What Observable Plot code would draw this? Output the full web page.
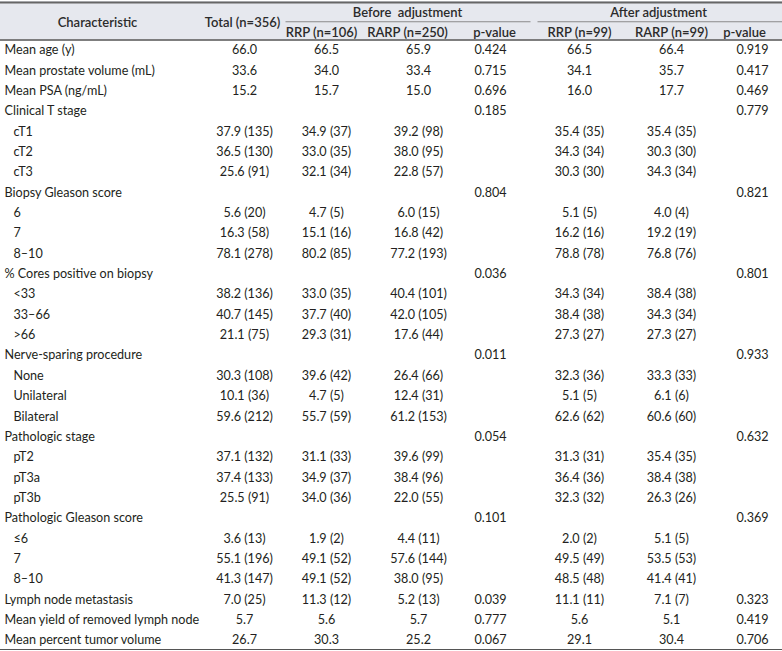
<!DOCTYPE html>
<html>
<head>
<meta charset="utf-8">
<script src="https://cdn.jsdelivr.net/npm/d3@7"></script>
<script src="https://cdn.jsdelivr.net/npm/@observablehq/plot@0.6"></script>
<style>
  html, body { margin: 0; padding: 0; background: #fff; }
  #chart svg { display: block; }
</style>
</head>
<body>
<div id="chart"></div>
<script>
// ---------- data ----------
const columnHeaders = ["Characteristic", "Total (n=356)", "RRP (n=106)", "RARP (n=250)", "p-value", "RRP (n=99)", "RARP (n=99)", "p-value"];
const groupHeaders = ["Before\u00a0 adjustment", "After adjustment"];

const characteristics = [
  "Mean age (y)", "Mean prostate volume (mL)", "Mean PSA (ng/mL)",
  "Clinical T stage", "cT1", "cT2", "cT3",
  "Biopsy Gleason score", "6", "7", "8\u201310",
  "% Cores positive on biopsy", "<33", "33\u201366", ">66",
  "Nerve-sparing procedure", "None", "Unilateral", "Bilateral",
  "Pathologic stage", "pT2", "pT3a", "pT3b",
  "Pathologic Gleason score", "\u22646", "7", "8\u201310",
  "Lymph node metastasis", "Mean yield of removed lymph node", "Mean percent tumor volume"
];
const levels = [0,0,0, 0,1,1,1, 0,1,1,1, 0,1,1,1, 0,1,1,1, 0,1,1,1, 0,1,1,1, 0,0,0];

const total = ["66.0","33.6","15.2", "","37.9 (135)","36.5 (130)","25.6 (91)",
  "","5.6 (20)","16.3 (58)","78.1 (278)", "","38.2 (136)","40.7 (145)","21.1 (75)",
  "","30.3 (108)","10.1 (36)","59.6 (212)", "","37.1 (132)","37.4 (133)","25.5 (91)",
  "","3.6 (13)","55.1 (196)","41.3 (147)", "7.0 (25)","5.7","26.7"];
const rrpBefore = ["66.5","34.0","15.7", "","34.9 (37)","33.0 (35)","32.1 (34)",
  "","4.7 (5)","15.1 (16)","80.2 (85)", "","33.0 (35)","37.7 (40)","29.3 (31)",
  "","39.6 (42)","4.7 (5)","55.7 (59)", "","31.1 (33)","34.9 (37)","34.0 (36)",
  "","1.9 (2)","49.1 (52)","49.1 (52)", "11.3 (12)","5.6","30.3"];
const rarpBefore = ["65.9","33.4","15.0", "","39.2 (98)","38.0 (95)","22.8 (57)",
  "","6.0 (15)","16.8 (42)","77.2 (193)", "","40.4 (101)","42.0 (105)","17.6 (44)",
  "","26.4 (66)","12.4 (31)","61.2 (153)", "","39.6 (99)","38.4 (96)","22.0 (55)",
  "","4.4 (11)","57.6 (144)","38.0 (95)", "5.2 (13)","5.7","25.2"];
const pBefore = ["0.424","0.715","0.696", "0.185","","","",
  "0.804","","","", "0.036","","","",
  "0.011","","","", "0.054","","","",
  "0.101","","","", "0.039","0.777","0.067"];
const rrpAfter = ["66.5","34.1","16.0", "","35.4 (35)","34.3 (34)","30.3 (30)",
  "","5.1 (5)","16.2 (16)","78.8 (78)", "","34.3 (34)","38.4 (38)","27.3 (27)",
  "","32.3 (36)","5.1 (5)","62.6 (62)", "","31.3 (31)","36.4 (36)","32.3 (32)",
  "","2.0 (2)","49.5 (49)","48.5 (48)", "11.1 (11)","5.6","29.1"];
const rarpAfter = ["66.4","35.7","17.7", "","35.4 (35)","30.3 (30)","34.3 (34)",
  "","4.0 (4)","19.2 (19)","76.8 (76)", "","38.4 (38)","34.3 (34)","27.3 (27)",
  "","33.3 (33)","6.1 (6)","60.6 (60)", "","35.4 (35)","38.4 (38)","26.3 (26)",
  "","5.1 (5)","53.5 (53)","41.4 (41)", "7.1 (7)","5.1","30.4"];
const pAfter = ["0.919","0.417","0.469", "0.779","","","",
  "0.821","","","", "0.801","","","",
  "0.933","","","", "0.632","","","",
  "0.369","","","", "0.323","0.419","0.706"];

const valueColumns = [total, rrpBefore, rarpBefore, pBefore, rrpAfter, rarpAfter, pAfter];

// ---------- layout (scale configuration, not data) ----------
const colCenters = [97, 242, 321, 407, 494, 579, 671, 744];   // header centres
const valueShift = [2, 5, 11, -4, 0, 0, 8];                    // value offset per value column
const xDomain = [-0.5, ...d3.range(8), 7.5];
const xRange  = [0, ...colCenters, 782];

const nRows = characteristics.length;

const bodyCells = valueColumns.map((vals, j) =>
  vals.map((text, i) => ({col: j + 1, row: i, text})).filter(d => d.text !== "")
);
const labelCells = characteristics.map((text, i) => ({row: i, text, level: levels[i]}));

const headerCells = columnHeaders.map((text, j) => ({
  text, col: j, row: (j <= 1) ? -1 : -0.5
}));
const groupCells = [
  {text: groupHeaders[0], col: 3, from: 1.5, to: 4.5},
  {text: groupHeaders[1], col: 6, from: 4.5, to: 7.5}
];

const ink = "#231f20";
const headInk = "#2b2b2b";
const fs = 12.6;
const hfs = 13;

const marks = [
  // header background
  Plot.rectY([0], {x1: -0.5, x2: 7.5, y1: -2, y2: 0, fill: "#e6e8ee"}),
  // top border
  Plot.ruleY([-2], {x1: -0.5, x2: 7.5, stroke: "#666", strokeWidth: 2.2, dy: 1}),
  // header bottom
  Plot.ruleY([0], {x1: -0.5, x2: 7.5, stroke: "#555", strokeWidth: 1.4}),
  // bottom border
  Plot.ruleY([nRows], {x1: -0.5, x2: 7.5, stroke: "#555", strokeWidth: 1.2, dy: -1}),
  // spanning rules under group headers
  Plot.ruleY(groupCells.slice(0,1), {y: -1, x1: "from", x2: "to", stroke: "#8a8a8a", strokeWidth: 1, insetLeft: 4, insetRight: 6, dy: 1}),
  Plot.ruleY(groupCells.slice(1), {y: -1, x1: "from", x2: "to", stroke: "#8a8a8a", strokeWidth: 1, insetLeft: 1, dy: 1}),
  // group header text
  Plot.text(groupCells.slice(0,1), {x: "col", y: -1.5, text: "text", fontWeight: 600, fontSize: hfs, fill: headInk, dy: 2}),
  Plot.text(groupCells.slice(1), {x: "col", y: -1.5, text: "text", fontWeight: 600, fontSize: hfs, fill: headInk, dy: 2, dx: -13}),
  // column header text
  Plot.text(headerCells, {x: "col", y: "row", text: "text", fontWeight: 600, fontSize: hfs, fill: headInk, dy: 2}),
  // row labels
  Plot.text(labelCells.filter(d => d.level === 0), {x: -0.5, y: d => d.row + 0.5, text: "text", textAnchor: "start", dx: 4, fontSize: fs, fill: ink}),
  Plot.text(labelCells.filter(d => d.level === 1), {x: -0.5, y: d => d.row + 0.5, text: "text", textAnchor: "start", dx: 13, fontSize: fs, fill: ink}),
  // values, one mark per column
  ...bodyCells.map((cells, j) =>
    Plot.text(cells, {x: "col", y: d => d.row + 0.5, text: "text", fontSize: fs, fill: ink, dx: valueShift[j]})
  )
];

const chart = Plot.plot({
  width: 782,
  height: 651,
  margin: 0,
  x: {type: "linear", domain: xDomain, range: xRange, axis: null},
  y: {type: "linear", domain: [-2, 0, nRows], range: [1, 39.5, 650], axis: null},
  style: {fontFamily: "Lato, 'Open Sans', sans-serif", background: "#fff", color: ink},
  marks
});
document.getElementById("chart").appendChild(chart);
</script>
</body>
</html>
